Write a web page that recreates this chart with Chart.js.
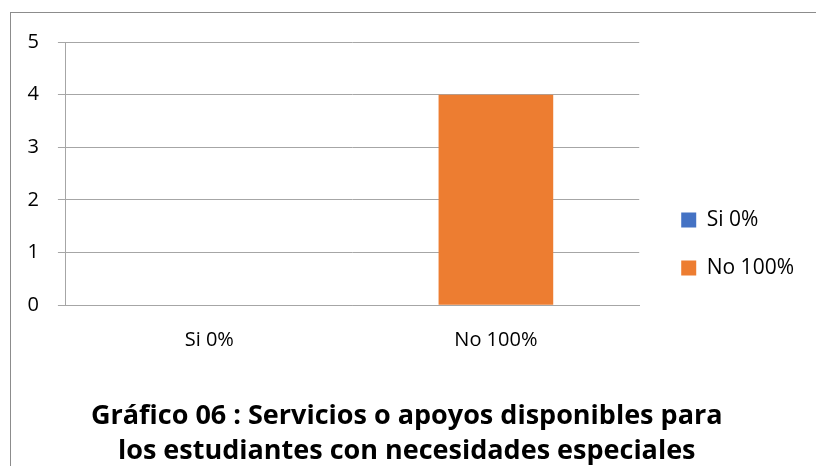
<!DOCTYPE html>
<html>
<head>
<meta charset="utf-8">
<script src="https://cdn.jsdelivr.net/npm/chart.js@4"></script>
<style>
  html, body { margin: 0; padding: 0; background: #fff; overflow: hidden; }
  #wrap { position: relative; width: 816px; height: 466px; }
  #frame { position: absolute; left: 10px; top: 12px; width: 900px; height: 600px; border: 1px solid #8c8c8c; }
  canvas { position: absolute; left: 0; top: 0; }
</style>
</head>
<body>
<div id="wrap">
  <div id="frame"></div>
  <canvas id="chart" width="816" height="466"></canvas>
</div>
<script>
// Data
const categories = ['Si 0%', 'No 100%'];
const values = [0, 4];
const barColors = ['#4472c4', '#ed7d31'];
const yTicks = [0, 1, 2, 3, 4, 5];
const titleLines = ['Gráfico 06 : Servicios o apoyos disponibles para', 'los estudiantes con necesidades especiales'];

const baseFont = "'Open Sans', 'DejaVu Sans', sans-serif";

// Small position tweaks for legend and title, like the spreadsheet layout
const boxNudge = {
    id: 'boxNudge',
    afterLayout(chart) {
        const lg = chart.legend;
        if (lg) {
            lg.left += 15;
            lg.right += 15;
            lg.top -= 10;
            lg.bottom -= 10;
        }
        const tt = chart.titleBlock;
        if (tt) {
            tt.left += 8;
            tt.right += 8;
            tt.top += 3;
            tt.bottom += 3;
        }
    }
};

function initChart() {
    const ctx = document.getElementById('chart').getContext('2d');

    new Chart(ctx, {
        type: 'bar',
        data: {
            labels: categories,
            datasets: [{
                label: 'Serie',
                data: values,
                backgroundColor: barColors,
                borderWidth: 0,
                categoryPercentage: 0.8,
                barPercentage: 0.5
            }]
        },
        options: {
            responsive: false,
            animation: false,
            layout: {
                padding: { left: 8.5, right: 27, top: 42, bottom: 0 }
            },
            scales: {
                x: {
                    grid: { display: false },
                    border: { color: '#a6a6a6', width: 1 },
                    ticks: {
                        color: '#000',
                        font: { family: baseFont, size: 20 },
                        padding: 14.5
                    }
                },
                y: {
                    min: 0,
                    max: yTicks[yTicks.length - 1],
                    afterBuildTicks: function (axis) {
                        axis.ticks = yTicks.map(v => ({ value: v }));
                    },
                    grid: { color: '#a6a6a6', tickLength: 8 },
                    border: { color: '#a6a6a6', width: 1 },
                    ticks: {
                        color: '#000',
                        font: { family: baseFont, size: 20 },
                        padding: 19
                    }
                }
            },
            plugins: {
                legend: {
                    position: 'right',
                    labels: {
                        color: '#000',
                        font: { family: baseFont, size: 21 },
                        boxWidth: 15,
                        boxHeight: 15,
                        padding: 27,
                        // Legend lists the categories, as in the spreadsheet chart
                        generateLabels: function (chart) {
                            return categories.map((c, i) => ({
                                text: c,
                                fillStyle: barColors[i],
                                strokeStyle: barColors[i],
                                lineWidth: 0,
                                fontColor: '#000',
                                index: i
                            }));
                        }
                    }
                },
                title: {
                    display: true,
                    position: 'bottom',
                    text: titleLines,
                    color: '#000',
                    font: { family: baseFont, size: 27, weight: 'bold', lineHeight: 1.3 },
                    padding: { top: 29.5, bottom: 0 }
                },
                tooltip: { enabled: false }
            }
        },
        plugins: [boxNudge]
    });
}

initChart();
</script>
</body>
</html>
